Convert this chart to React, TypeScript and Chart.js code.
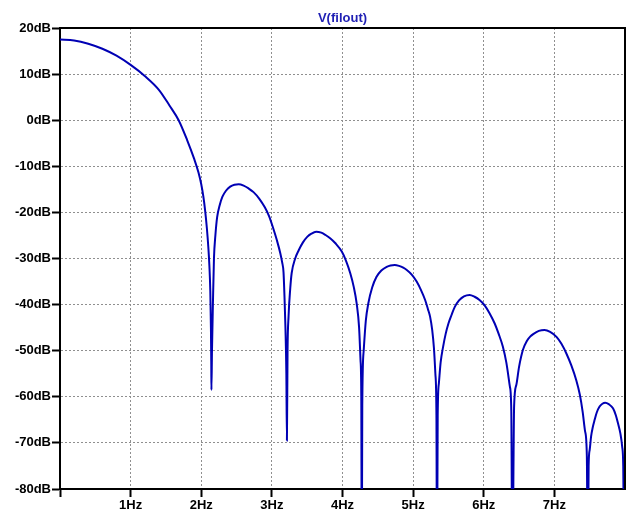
import React, { useEffect, useRef } from 'react';
import { Chart, registerables } from 'chart.js';

Chart.register(...registerables);

// Trace name shown above the plot
const traceName = 'V(filout)';

// Frequency (Hz) of each sample of the trace
const freqHz = [
  // main lobe
  0, 0.2, 0.4, 0.6, 0.8, 1.0, 1.2, 1.4, 1.55, 1.68, 1.8, 1.9, 1.96, 2.0, 2.03, 2.055, 2.08, 2.1, 2.115, 2.128, 2.137, 2.142, 2.144,
  // second lobe
  2.152, 2.165, 2.18, 2.2, 2.225, 2.26, 2.3, 2.35, 2.41, 2.47, 2.53, 2.6, 2.67, 2.74, 2.82, 2.9, 2.96, 3.02, 3.07, 3.12, 3.145, 3.165, 3.178, 3.192, 3.205, 3.213,
  // third lobe
  3.222, 3.236, 3.26, 3.28, 3.33, 3.38, 3.44, 3.5, 3.56, 3.627, 3.7, 3.76, 3.825, 3.9, 3.99, 4.05, 4.11, 4.16, 4.2, 4.235, 4.255, 4.266, 4.273,
  // fourth lobe
  4.28, 4.3, 4.33, 4.366, 4.42, 4.48, 4.55, 4.626, 4.68, 4.74, 4.8, 4.86, 4.91, 4.98, 5.05, 5.11, 5.17, 5.21, 5.24, 5.27, 5.295, 5.315, 5.33, 5.338,
  // fifth lobe
  5.348, 5.365, 5.39, 5.425, 5.46, 5.5, 5.545, 5.59, 5.65, 5.72, 5.8, 5.87, 5.94, 6.01, 6.08, 6.155, 6.21, 6.27, 6.32, 6.37, 6.39, 6.405,
  // sixth lobe
  6.43, 6.46, 6.5, 6.555, 6.61, 6.66, 6.7, 6.78, 6.86, 6.94, 7.03, 7.1, 7.17, 7.24, 7.31, 7.36, 7.4, 7.435, 7.46, 7.473,
  // last lobe
  7.485, 7.5, 7.52, 7.545, 7.57, 7.6, 7.64, 7.68, 7.72, 7.77, 7.83, 7.87, 7.9, 7.935, 7.96, 7.975, 7.99,
];

// Magnitude (dB) at each frequency above
const levelDb = [
  17.5, 17.3, 16.6, 15.5, 14.0, 12.0, 9.6, 6.6, 3.2, 0.0, -4.3, -8.4, -11.3, -13.9, -16.6, -19.6, -23.5, -27.5, -31.5, -37.0, -45.0, -53.0, -58.5,
  -50.0, -40.0, -30.0, -25.0, -21.0, -18.5, -16.6, -15.3, -14.4, -14.0, -13.9, -14.2, -14.8, -15.6, -17.0, -18.9, -20.8, -23.5, -26.0, -28.9, -30.8, -33.0, -38.0, -45.0, -55.0, -69.5,
  -50.0, -42.6, -36.5, -33.2, -30.0, -28.2, -26.5, -25.3, -24.6, -24.2, -24.4, -24.9, -25.6, -26.7, -28.5, -30.5, -33.2, -36.2, -39.7, -45.0, -52.0, -60.0, -100,
  -62.0, -50.0, -43.5, -39.7, -36.3, -34.0, -32.6, -31.8, -31.5, -31.4, -31.6, -32.0, -32.5, -33.5, -35.0, -36.8, -39.0, -41.0, -42.6, -45.5, -49.5, -55.0, -64.0, -100,
  -64.0, -57.0, -52.5, -49.1, -46.4, -44.1, -42.2, -40.5, -39.1, -38.2, -37.9, -38.3, -39.0, -40.1, -41.8, -44.1, -46.3, -49.1, -52.6, -57.8, -63.0, -100,
  -62.0, -57.5, -53.5, -49.8, -47.9, -46.9, -46.4, -45.7, -45.5, -45.9, -47.0, -48.5, -50.6, -53.2, -56.4, -59.5, -63.2, -67.5, -73.0, -100,
  -75.0, -71.5, -68.6, -66.5, -65.0, -63.4, -62.1, -61.5, -61.3, -61.6, -62.5, -64.0, -65.7, -68.0, -70.8, -75.0, -100,
];

// Axis ticks
const xTickValues = [0, 1, 2, 3, 4, 5, 6, 7];
const xTickLabels = ['', '1Hz', '2Hz', '3Hz', '4Hz', '5Hz', '6Hz', '7Hz'];
const yTickValues = [20, 10, 0, -10, -20, -30, -40, -50, -60, -70, -80];
const yTickLabels = ['20dB', '10dB', '0dB', '-10dB', '-20dB', '-30dB', '-40dB', '-50dB', '-60dB', '-70dB', '-80dB'];

const FONT = "'Liberation Sans', Arial, sans-serif";
const TRACE_COLOR = '#0000b4';
const GRID_COLOR = '#8f8f8f';

const framePlugin = {
  id: 'plotFrame',
  afterDraw(chart: Chart) {
    const { ctx, chartArea } = chart;
    ctx.save();
    ctx.strokeStyle = '#000';
    ctx.lineWidth = 2;
    ctx.beginPath();
    ctx.moveTo(chartArea.left, chartArea.top);
    ctx.lineTo(chartArea.right, chartArea.top);
    ctx.lineTo(chartArea.right, chartArea.bottom);
    ctx.stroke();

    ctx.fillStyle = '#1f1fb4';
    ctx.font = `bold 13px ${FONT}`;
    ctx.textAlign = 'center';
    ctx.textBaseline = 'middle';
    ctx.fillText(traceName, (chartArea.left + chartArea.right) / 2, 18);
    ctx.restore();
  },
};

export default function App() {
  const canvasRef = useRef<HTMLCanvasElement | null>(null);

  useEffect(() => {
    const canvas = canvasRef.current;
    if (!canvas) return;

    const points = freqHz.map((f, i) => ({ x: f, y: levelDb[i] }));

    const chart = new Chart(canvas, {
      type: 'line',
      data: {
        datasets: [
          {
            label: traceName,
            data: points,
            borderColor: TRACE_COLOR,
            borderWidth: 2,
            pointRadius: 0,
            fill: false,
            cubicInterpolationMode: 'monotone',
            clip: 0,
          },
        ],
      },
      options: {
        animation: false,
        responsive: true,
        maintainAspectRatio: false,
        layout: { padding: { top: 28, right: 8, left: 0, bottom: 0 } },
        plugins: {
          legend: { display: false },
          title: { display: false },
          tooltip: { enabled: false },
        },
        scales: {
          x: {
            type: 'linear',
            min: 0,
            max: 8,
            afterBuildTicks: (scale: any) => {
              scale.ticks = xTickValues.map((v) => ({ value: v }));
            },
            afterFit: (scale: any) => {
              scale.height = 20;
            },
            ticks: {
              autoSkip: false,
              maxRotation: 0,
              padding: 1,
              color: '#000',
              font: { family: FONT, size: 13, weight: 'bold' },
              callback: (value: any) => {
                const i = xTickValues.indexOf(Number(value));
                return i >= 0 ? xTickLabels[i] : '';
              },
            },
            grid: {
              color: GRID_COLOR,
              lineWidth: 1,
              tickLength: 8,
              tickColor: '#000',
              tickWidth: 2,
              tickBorderDash: [],
            },
            border: { color: '#000', width: 2, dash: [2, 2] },
          },
          y: {
            type: 'linear',
            min: -80,
            max: 20,
            afterBuildTicks: (scale: any) => {
              scale.ticks = yTickValues.map((v) => ({ value: v }));
            },
            afterFit: (scale: any) => {
              scale.width = 60;
            },
            ticks: {
              autoSkip: false,
              padding: 1,
              color: '#000',
              font: { family: FONT, size: 13, weight: 'bold' },
              callback: (value: any) => {
                const i = yTickValues.indexOf(Number(value));
                return i >= 0 ? yTickLabels[i] : '';
              },
            },
            grid: {
              color: GRID_COLOR,
              lineWidth: 1,
              tickLength: 8,
              tickColor: '#000',
              tickWidth: 2,
              tickBorderDash: [],
            },
            border: { color: '#000', width: 2, dash: [2, 2] },
          },
        },
      },
      plugins: [framePlugin],
    });

    return () => chart.destroy();
  }, []);

  return (
    <div style={{ position: 'absolute', left: 0, top: 0, width: 633, height: 509, background: '#fff' }}>
      <canvas ref={canvasRef} />
    </div>
  );
}
